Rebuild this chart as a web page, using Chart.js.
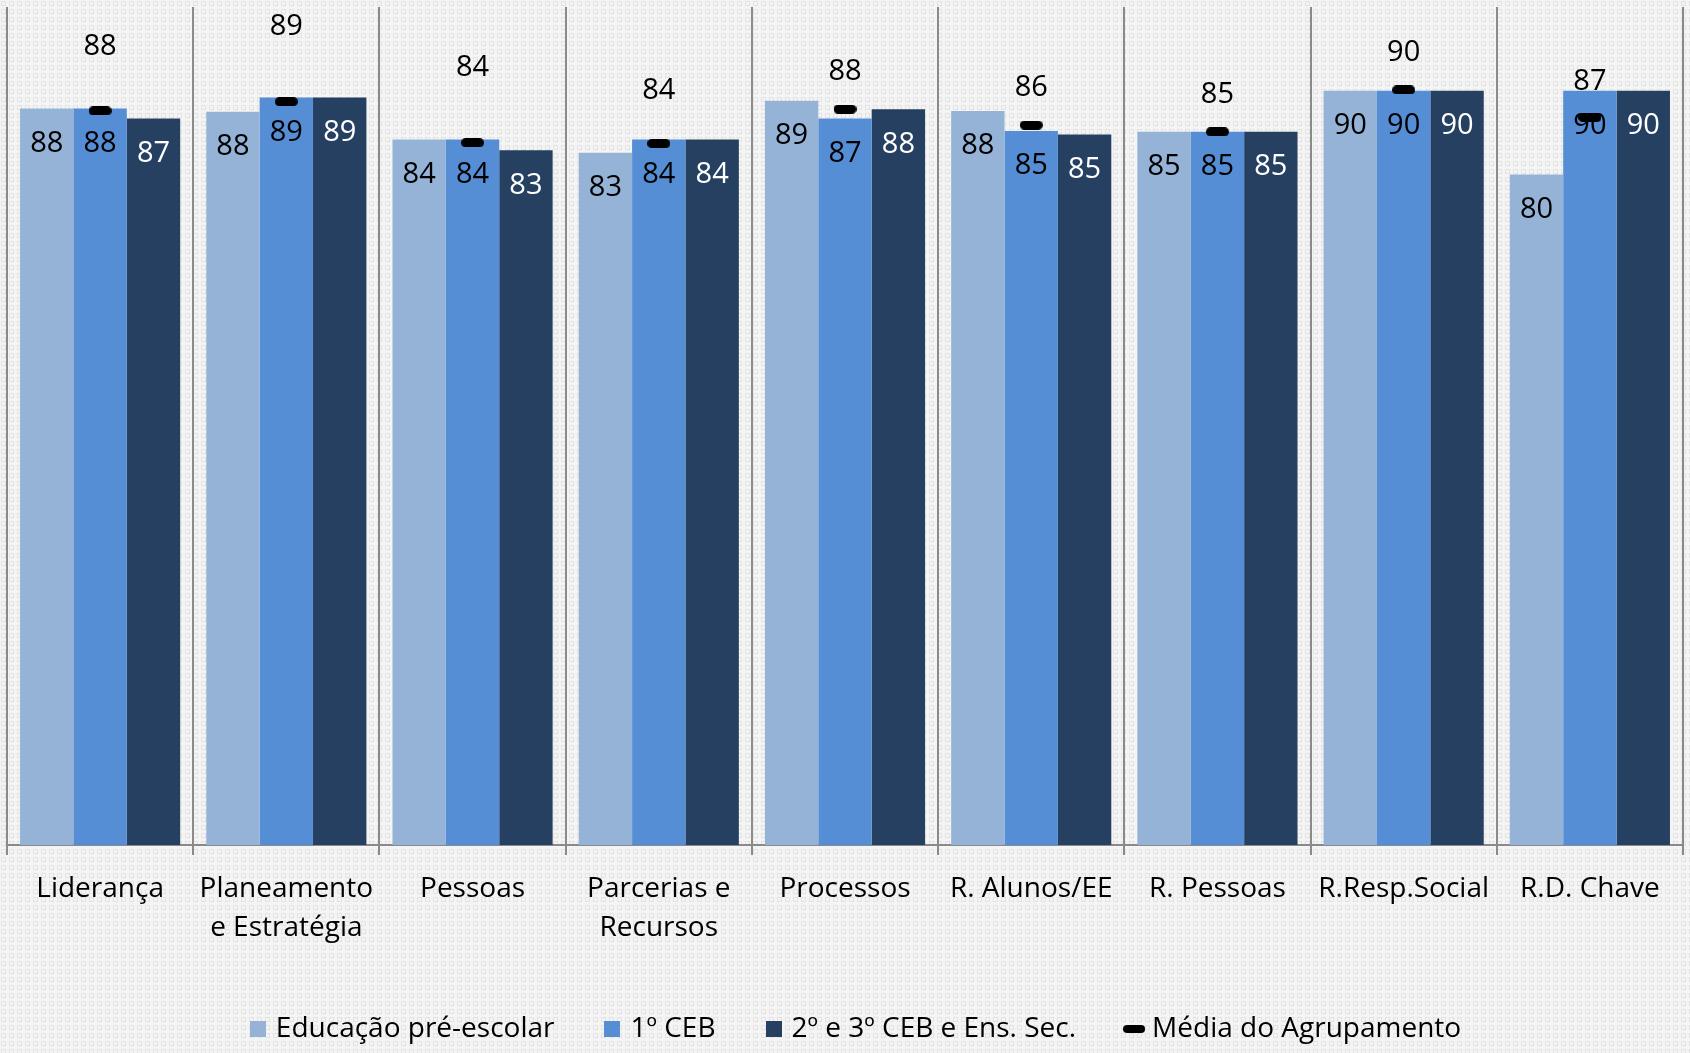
<!DOCTYPE html>
<html>
<head>
<meta charset="utf-8">
<script src="https://cdn.jsdelivr.net/npm/chart.js@4"></script>
<style>
  html, body { margin: 0; padding: 0; width: 1690px; height: 1053px; overflow: hidden; }
  #wrap { width: 1690px; height: 1053px; position: relative; }
</style>
</head>
<body>
<div id="wrap"><canvas id="c" width="1690" height="1053"></canvas></div>
<script>
// ---- data ----
const categories = ["Liderança", ["Planeamento", "e Estratégia"], "Pessoas", ["Parcerias e", "Recursos"], "Processos", "R. Alunos/EE", "R. Pessoas", "R.Resp.Social", "R.D. Chave"];
const seriesNames = ["Educação pré-escolar", "1º CEB", "2º e 3º CEB e Ens. Sec.", "Média do Agrupamento"];
const preEscolar = [87.9, 87.5, 84.2, 82.6, 88.8, 87.6, 85.1, 90.0, 80.0];
const ceb1 = [87.9, 89.2, 84.2, 84.2, 86.7, 85.2, 85.1, 90.0, 90.0];
const ceb23 = [86.7, 89.2, 82.9, 84.2, 87.8, 84.8, 85.1, 90.0, 90.0];
const mediaAgrupamento = [87.6, 88.7, 83.8, 83.7, 87.8, 85.9, 85.1, 90.1, 86.8];

// ---- styles ----
const colors = ["#95b3d7", "#558ed5", "#254061"];
const labelColors = ["#000000", "#000000", "#ffffff"];
const meanLabelOffsets = [64, 75, 75, 53, 38, 37, 37, 37, 36];
const FONT = "'Open Sans', 'Noto Sans', sans-serif";

// background pattern
(function () {
  const p = document.createElement('canvas');
  p.width = 8; p.height = 8;
  const g = p.getContext('2d');
  g.fillStyle = '#f4f4f4'; g.fillRect(0, 0, 8, 8);
  g.strokeStyle = '#e3e3e3'; g.lineWidth = 1;
  g.strokeRect(1.5, 1.5, 4, 4);
  document.body.style.background = "url(" + p.toDataURL() + ")";
})();

function makeBox(color) {
  const c = document.createElement('canvas');
  c.width = 16; c.height = 16;
  const g = c.getContext('2d');
  g.fillStyle = color; g.fillRect(0, 0, 16, 16);
  return c;
}
function makeDash(w, h) {
  const c = document.createElement('canvas');
  c.width = w; c.height = h;
  const g = c.getContext('2d');
  g.fillStyle = '#000';
  const r = h / 2;
  g.beginPath();
  g.moveTo(r, 0); g.lineTo(w - r, 0); g.arc(w - r, r, r, -Math.PI / 2, Math.PI / 2);
  g.lineTo(r, h); g.arc(r, r, r, Math.PI / 2, Math.PI * 1.5); g.closePath(); g.fill();
  return c;
}
const dashImg = makeDash(23, 9);
const legendDash = makeDash(22, 8);
const legendImgs = [makeBox(colors[0]), makeBox(colors[1]), makeBox(colors[2]), legendDash];

const labelPlugin = {
  id: 'valueLabels',
  afterLayout(chart) {
    if (chart.legend) { chart.legend.left += 12; chart.legend.right += 12; }
  },
  afterDatasetsDraw(chart) {
    const ctx = chart.ctx;
    ctx.save();
    ctx.textAlign = 'center';
    ctx.textBaseline = 'middle';
    ctx.font = "29px " + FONT;
    for (let d = 0; d < 3; d++) {
      const meta = chart.getDatasetMeta(d);
      const data = chart.data.datasets[d].data;
      meta.data.forEach((bar, i) => {
        ctx.fillStyle = labelColors[d];
        ctx.fillText(String(Math.round(data[i])), bar.x, bar.y + 35);
      });
    }
    const mMeta = chart.getDatasetMeta(3);
    mMeta.data.forEach((pt, i) => {
      ctx.fillStyle = '#000';
      ctx.fillText(String(Math.round(mediaAgrupamento[i])), pt.x, pt.y - meanLabelOffsets[i]);
    });
    ctx.restore();
  }
};

new Chart(document.getElementById('c'), {
  data: {
    labels: categories,
    datasets: [
      { type: 'bar', label: seriesNames[0], data: preEscolar, backgroundColor: colors[0], borderWidth: 0 },
      { type: 'bar', label: seriesNames[1], data: ceb1, backgroundColor: colors[1], borderWidth: 0 },
      { type: 'bar', label: seriesNames[2], data: ceb23, backgroundColor: colors[2], borderWidth: 0 },
      { type: 'line', label: seriesNames[3], data: mediaAgrupamento, showLine: false, pointStyle: dashImg, pointRadius: 6, order: -1 }
    ]
  },
  options: {
    responsive: false,
    animation: false,
    devicePixelRatio: 1,
    layout: { padding: { left: 7, right: 6, top: 7, bottom: 0 } },
    datasets: { bar: { categoryPercentage: 0.86, barPercentage: 1.0 } },
    plugins: {
      tooltip: { enabled: false },
      legend: {
        position: 'bottom',
        labels: {
          usePointStyle: true,
          boxWidth: 8,
          boxHeight: 16,
          padding: 54,
          color: '#000',
          font: { family: FONT, size: 28 },
          generateLabels(chart) {
            return seriesNames.map((name, i) => ({
              text: name,
              fillStyle: i < 3 ? colors[i] : '#000',
              strokeStyle: 'rgba(0,0,0,0)',
              lineWidth: 0,
              pointStyle: legendImgs[i],
              hidden: false,
              datasetIndex: i
            }));
          }
        }
      }
    },
    scales: {
      x: {
        type: 'category',
        offset: true,
        afterFit(scale) { scale.height = 116; },
        grid: { offset: true, color: '#8a8a8a', lineWidth: 2, drawTicks: true, tickLength: 10, drawOnChartArea: true },
        border: { display: true, color: '#8a8a8a', width: 2 },
        ticks: { color: '#000', padding: 15, maxRotation: 0, autoSkip: false, font: { family: FONT, size: 28, lineHeight: 1.39 } }
      },
      y: {
        display: false,
        min: 0,
        max: 100
      }
    }
  },
  plugins: [labelPlugin]
});
</script>
</body>
</html>
